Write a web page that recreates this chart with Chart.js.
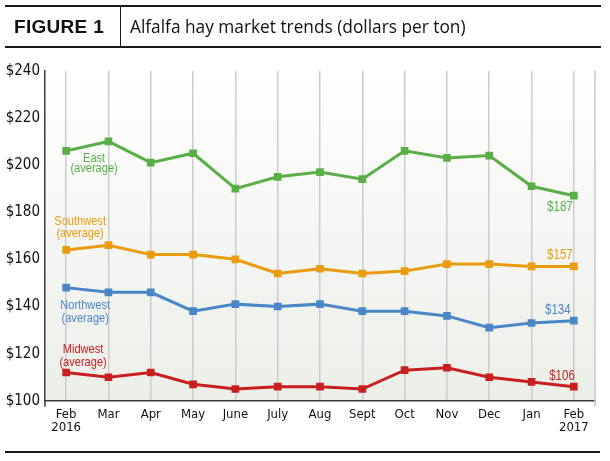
<!DOCTYPE html>
<html>
<head>
<meta charset="utf-8">
<script src="https://cdn.jsdelivr.net/npm/chart.js@4.4.1/dist/chart.umd.min.js"></script>
<style>
  html, body { margin: 0; padding: 0; background: #ffffff; }
  #wrap { position: relative; width: 610px; height: 461px; overflow: hidden; }
  #c { position: absolute; left: 0; top: 0; }
  .rule { position: absolute; background: #1a1a1a; }
  #fig { position: absolute; left: 14px; top: 15px; font-family: 'Liberation Sans', Arial, sans-serif; font-weight: bold; font-size: 19px; letter-spacing: 0.3px; color: #111; line-height: 24px; }
  #ttl { position: absolute; left: 130px; top: 15px; font-family: 'Open Sans', 'Noto Sans', sans-serif; font-size: 17.3px; color: #111; line-height: 24px; white-space: nowrap; }
</style>
</head>
<body>
<div id="wrap">
  <canvas id="c" width="610" height="461"></canvas>
  <div class="rule" style="left:5px;top:5px;width:596px;height:2px;"></div>
  <div class="rule" style="left:5px;top:46px;width:596px;height:2px;"></div>
  <div class="rule" style="left:120px;top:6px;width:1px;height:41px;"></div>
  <div class="rule" style="left:5px;top:451px;width:595px;height:2px;"></div>
  <div id="fig">FIGURE 1</div>
  <div id="ttl">Alfalfa hay market trends (dollars per ton)</div>
</div>
<script>
// ---- data ----
const months = [['Feb','2016'],'Mar','Apr','May','June','July','Aug','Sept','Oct','Nov','Dec','Jan',['Feb','2017']];
const east      = [206, 210, 201, 205, 190, 195, 197, 194, 206, 203, 204, 191, 187];
const southwest = [164, 166, 162, 162, 160, 154, 156, 154, 155, 158, 158, 157, 157];
const northwest = [148, 146, 146, 138, 141, 140, 141, 138, 138, 136, 131, 133, 134];
const midwest   = [112, 110, 112, 107, 105, 106, 106, 105, 113, 114, 110, 108, 106];
const yTicks = [100, 120, 140, 160, 180, 200, 220, 240];

const GREEN = '#5aae48', ORANGE = '#e89c0e', BLUE = '#4a87c6', RED = '#c8201f';
const NARROW = "'DejaVu Sans Condensed', 'Liberation Sans Narrow', 'DejaVu Sans', sans-serif";
const ANNO_FONT = "'Liberation Sans', Arial, sans-serif";

// label anchors in data units (category index, value)
const seriesLabels = [
  { lines: ['East', '(average)'], x: 0.66, y: [203.0, 198.7], color: GREEN },
  { lines: ['Southwest', '(average)'], x: 0.33, y: [176.0, 171.2], color: ORANGE },
  { lines: ['Northwest', '(average)'], x: 0.45, y: [140.6, 135.2], color: BLUE },
  { lines: ['Midwest', '(average)'], x: 0.40, y: [121.8, 116.2], color: RED },
  { lines: ['$' + east[12]], x: 11.67, y: [182.3], color: GREEN },
  { lines: ['$' + southwest[12]], x: 11.67, y: [161.8], color: ORANGE },
  { lines: ['$' + northwest[12]], x: 11.62, y: [138.5], color: BLUE },
  { lines: ['$' + midwest[12]], x: 11.72, y: [110.5], color: RED }
];

function ds(label, data, color) {
  return {
    label, data,
    borderColor: color, backgroundColor: color,
    borderWidth: 3, pointStyle: 'rect', pointRadius: 3.3, pointHoverRadius: 3.3,
    tension: 0, fill: false
  };
}

const bgPlugin = {
  id: 'bg',
  beforeDraw(chart) {
    const { ctx, chartArea: a } = chart;
    const g = ctx.createLinearGradient(0, a.top, 0, a.bottom);
    g.addColorStop(0, '#ffffff');
    g.addColorStop(1, '#eceee8');
    ctx.save();
    ctx.fillStyle = g;
    ctx.fillRect(a.left, a.top, a.right - a.left, a.bottom - a.top);
    ctx.restore();
  },
  afterDraw(chart) {
    const { ctx, chartArea: a, scales } = chart;
    ctx.save();
    ctx.strokeStyle = '#c9c9c9';
    ctx.lineWidth = 1.5;
    ctx.beginPath();
    ctx.moveTo(a.right, a.top); ctx.lineTo(a.right, a.bottom + 6);
    ctx.stroke();
    ctx.strokeStyle = '#3a3a3a';
    ctx.beginPath();
    ctx.moveTo(a.left, a.bottom); ctx.lineTo(a.left, a.bottom + 6);
    ctx.stroke();
    ctx.textAlign = 'center';
    ctx.textBaseline = 'middle';
    const sx = 0.82;
    seriesLabels.forEach(l => {
      ctx.fillStyle = l.color;
      ctx.font = (l.lines.length > 1 ? '13.5px ' : '14px ') + ANNO_FONT;
      const px = scales.x.getPixelForValue(l.x);
      l.lines.forEach((t, i) => {
        const py = scales.y.getPixelForValue(l.y[i]);
        ctx.save();
        ctx.translate(px, py);
        ctx.scale(sx, 1);
        ctx.fillText(t, 0, 0);
        ctx.restore();
      });
    });
    ctx.restore();
  }
};

new Chart(document.getElementById('c'), {
  type: 'line',
  data: {
    labels: months,
    datasets: [
      ds('East', east, GREEN),
      ds('Southwest', southwest, ORANGE),
      ds('Northwest', northwest, BLUE),
      ds('Midwest', midwest, RED)
    ]
  },
  options: {
    responsive: false,
    animation: false,
    layout: { padding: { top: 70.7, right: 15, left: 0, bottom: 0 } },
    plugins: { legend: { display: false }, tooltip: { enabled: false }, title: { display: false } },
    scales: {
      x: {
        offset: true,
        grid: { display: true, offset: false, color: '#cccccc', lineWidth: 1.5, drawTicks: false },
        border: { display: true, color: '#3a3a3a', width: 1.5 },
        ticks: { color: '#111', font: { family: NARROW, size: 13, lineHeight: 1.0 }, padding: 7.5, maxRotation: 0, autoSkip: false },
        afterFit(s) { s.height = 60.2; }
      },
      y: {
        min: yTicks[0], max: yTicks[yTicks.length - 1],
        afterBuildTicks(s) { s.ticks = yTicks.map(v => ({ value: v })); },
        grid: { display: false, drawTicks: false },
        border: { display: true, color: '#3a3a3a', width: 1.5 },
        ticks: { color: '#111', font: { family: NARROW, size: 15 }, padding: 5, callback: v => '$' + v },
        afterFit(s) { s.width = 45; }
      }
    }
  },
  plugins: [bgPlugin]
});
</script>
</body>
</html>
